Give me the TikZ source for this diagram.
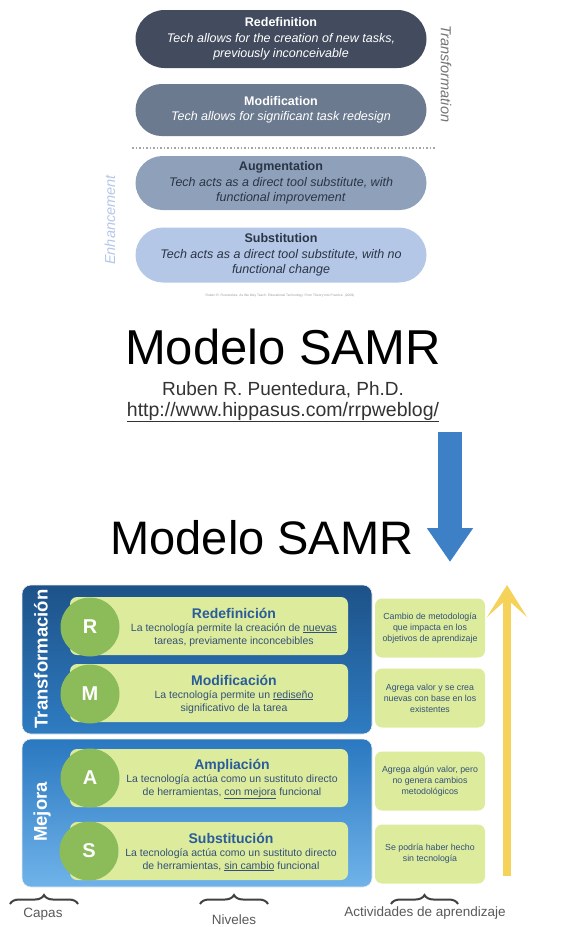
\documentclass[tikz,border=0pt]{standalone}
\usepackage{fontspec}
\setmainfont{Liberation Sans}
\usetikzlibrary{positioning,arrows.meta,decorations.pathreplacing,shapes.misc}
\definecolor{redefgray}{HTML}{434C5E}
\definecolor{modifgray}{HTML}{6B7A8F}
\definecolor{augmblue}{HTML}{8FA1BA}
\definecolor{substblue}{HTML}{B4C7E6}
\definecolor{darktext}{HTML}{2B3445}
\definecolor{transtop}{HTML}{1D5288}
\definecolor{transbot}{HTML}{2F7CC2}
\definecolor{mejoratop}{HTML}{2A78C0}
\definecolor{mejorabot}{HTML}{70B3EA}
\definecolor{lvlgreen}{HTML}{DCEC9C}
\definecolor{circgreen}{HTML}{8CBB5A}
\definecolor{titleblue}{HTML}{2A5C9C}
\definecolor{bodyblue}{HTML}{34507A}
\definecolor{arrowblue}{HTML}{3D80C6}
\definecolor{arrowyellow}{HTML}{F5D35A}
\begin{document}
\begin{tikzpicture}[x=1pt, y=-1pt,
  pill/.style={rounded rectangle, minimum width=293pt, align=center, inner sep=1pt,
               font=\fontsize{12.5}{15.5}\selectfont},
  layer/.style={rounded corners=9pt, draw=white!85!gray, line width=0.6pt},
  lvlbox/.style={fill=lvlgreen, rounded corners=7pt, minimum width=278pt, minimum height=58pt},
  lvlcirc/.style={circle, fill=circgreen, minimum size=59pt, inner sep=0pt, text=white,
                  font=\fontsize{20}{20}\selectfont\bfseries},
  lvltext/.style={align=center, text=bodyblue, font=\fontsize{10.5}{13}\selectfont},
  actbox/.style={fill=lvlgreen, rounded corners=7pt, minimum width=110pt, minimum height=59pt,
                 align=center, text=bodyblue, font=\fontsize{8.8}{11}\selectfont},
  brace/.style={decorate, decoration={brace, amplitude=9pt}, draw=black!75, line width=2pt},
  bracelabel/.style={text=black!65, font=\fontsize{13.5}{15}\selectfont}]
\useasboundingbox (0,0) rectangle (561,927);

% original model
\node (redef) [pill, fill=redefgray, text=white, minimum height=58pt] at (281,39)
  {\textbf{Redefinition}\\\textit{Tech allows for the creation of new tasks,}\\\textit{previously inconceivable}};
\node (modif) [pill, fill=modifgray, text=white, minimum height=52pt] at (281,110)
  {\textbf{Modification}\\\textit{Tech allows for significant task redesign}};
\node (augm)  [pill, fill=augmblue, text=darktext, minimum height=54pt] at (281,183)
  {\textbf{Augmentation}\\\textit{Tech acts as a direct tool substitute, with}\\\textit{functional improvement}};
\node (subst) [pill, fill=substblue, text=darktext, minimum height=55pt] at (281,255)
  {\textbf{Substitution}\\\textit{Tech acts as a direct tool substitute, with no}\\\textit{functional change}};
\draw[dotted, line width=1.5pt, black!35] (132,148) -- (435,148);
\node (transf) [rotate=-90, text=black!55, font=\fontsize{14.5}{14.5}\selectfont\itshape] at (446,74) {Transformation};
\node (enhan)  [rotate=90, text=substblue, font=\fontsize{14.5}{14.5}\selectfont\itshape] at (110,220) {Enhancement};
\node (cite) [text=black!40, font=\fontsize{3.3}{4}\selectfont] at (280,296)
  {Ruben R. Puentedura, As We May Teach: Educational Technology, From Theory Into Practice. (2009)};

\node (title1) [anchor=base, font=\fontsize{49}{50}\selectfont] at (283,364) {Modelo SAMR};
\node (author) [anchor=base, text=black!80, font=\fontsize{19}{20}\selectfont] at (283,395) {Ruben R. Puentedura, Ph.D.};
\node (url)    [anchor=base, text=black!80, font=\fontsize{19.5}{20}\selectfont] at (283,416) {\underline{http://www.hippasus.com/rrpweblog/}};

% down arrow
\coordinate (btop) at (450,432);
\coordinate (btip) at (450,562);
\draw[arrowblue, line width=24pt, -{Triangle[length=34pt, width=44pt]}] (btop) -- (btip);

\node (title2) [anchor=base, font=\fontsize{47}{48}\selectfont] at (262,554) {Modelo SAMR};

% layers
\shade[layer, top color=transtop, bottom color=transbot] (22,585) rectangle (372,734);
\shade[layer, top color=mejoratop, bottom color=mejorabot] (22,739) rectangle (372,887);
\node (ltrans) [rotate=90, text=white, font=\fontsize{18.5}{19}\selectfont\bfseries] at (41,659) {Transformación};
\node (lmej)   [rotate=90, text=white, font=\fontsize{18.5}{19}\selectfont\bfseries] at (42,812) {Mejora};

% levels
\node (rbox) [lvlbox] at (209,626) {};
\node (mbox) [lvlbox] at (209,693) {};
\node (abox) [lvlbox] at (209,778) {};
\node (sbox) [lvlbox] at (209,851) {};
\node (rc) [lvlcirc] at (90,627) {R};
\node (mc) [lvlcirc] at (90,694) {M};
\node (ac) [lvlcirc] at (90,778) {A};
\node (sc) [lvlcirc] at (89,851) {S};
\node (rtext) [lvltext] at (234,627)
  {{\fontsize{14}{15}\selectfont\bfseries\color{titleblue}Redefinición}\\La tecnología permite la creación de \underline{nuevas}\\tareas, previamente inconcebibles};
\node (mtext) [lvltext] at (234,694)
  {{\fontsize{14}{15}\selectfont\bfseries\color{titleblue}Modificación}\\La tecnología permite un \underline{rediseño}\\significativo de la tarea};
\node (atext) [lvltext] at (232,779)
  {{\fontsize{14}{15}\selectfont\bfseries\color{titleblue}Ampliación}\\La tecnología actúa como un sustituto directo\\de herramientas, \underline{con mejora} funcional};
\node (stext) [lvltext] at (231,852)
  {{\fontsize{14}{15}\selectfont\bfseries\color{titleblue}Substitución}\\La tecnología actúa como un sustituto directo\\de herramientas, \underline{sin cambio} funcional};

% learning activities
\begin{scope}
  \clip (373,590) rectangle (500,890);
  \node (act1) [actbox] at (430,628) {Cambio de metodología\\que impacta en los\\objetivos de aprendizaje};
  \node (act2) [actbox] at (430,698) {Agrega valor y se crea\\nuevas con base en los\\existentes};
  \node (act3) [actbox] at (430,781) {Agrega algún valor, pero\\no genera cambios\\metodológicos};
  \node (act4) [actbox] at (430,854) {Se podría haber hecho\\sin tecnología};
\end{scope}

% up arrow
\coordinate (ytail) at (507,876);
\coordinate (yhead) at (507,585);
\draw[arrowyellow, line width=8pt, -{Stealth[length=32pt, width=40pt, inset=18pt]}] (ytail) -- (yhead);

% braces
\draw[brace] (10,904) -- (78,904);
\draw[brace] (200,904) -- (268,904);
\draw[brace] (391,904) -- (458,904);
\node (capas)   [bracelabel] at (43,914) {Capas};
\node (niveles) [bracelabel] at (234,920) {Niveles};
\node (activ)   [bracelabel] at (425,913) {Actividades de aprendizaje};
\end{tikzpicture}
\end{document}
